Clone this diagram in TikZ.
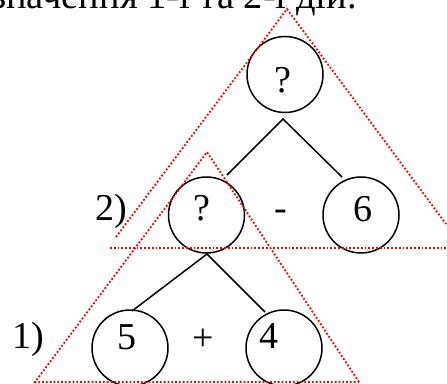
\documentclass[tikz,border=0pt]{standalone}
\usepackage{fontspec}
\setmainfont{Liberation Serif}
\begin{document}
\begin{tikzpicture}[x=1pt,y=-1pt,
  big/.style={font=\fontsize{38}{40}\selectfont, inner sep=0pt, anchor=base},
  vert/.style={circle, draw=black, line width=1.5pt, minimum size=76pt, inner sep=0pt},
  edge/.style={draw=black, line width=1.5pt},
  tri/.style={draw=red, line width=1.8pt, dash pattern=on 1.8pt off 2pt}]
\useasboundingbox (0,0) rectangle (447,383);
\clip (0,0) rectangle (447,383);
% caption line (cut off at the top)
\node[font=\fontsize{38.5}{42}\selectfont, inner sep=0pt, anchor=base east] (cap) at (357,8.5) {значення 1-ї та 2-ї дій.};
% circles
\node[vert] (c0) at (285,74.5) {};
\node[vert] (c1) at (206.5,215) {};
\node[vert] (c2) at (361,215) {};
\node[vert] (c3) at (130,348) {};
\node[vert] (c4) at (284,348) {};
% texts
\node[big] (t0) at (283,92) {?};
\node[big] (t1) at (202,220) {?};
\node[big] (t2) at (363,221) {6};
\node[big] (t3) at (127,349) {5};
\node[big] (t4) at (269,348) {4};
\node[big] (op1) at (281,220) {-};
\node[big] (op2) at (203,350) {+};
\node[big] (l2) at (111,220) {2)};
\node[big] (l1) at (28,348) {1)};
% connectors
\coordinate (j0) at (283,119);
\coordinate (e1) at (227,175);
\coordinate (e2) at (342,177);
\coordinate (j1) at (207,254);
\coordinate (e3) at (132,311);
\coordinate (e4) at (265,312);
\draw[edge] (e1) -- (j0) -- (e2);
\draw[edge] (e3) -- (j1) -- (e4);
% red dotted triangles
\coordinate (A) at (287,9);
\coordinate (AL) at (116,237);
\coordinate (AR) at (446,224);
\coordinate (BL) at (110,248);
\coordinate (BR) at (447,248);
\draw[tri] (AL) -- (A) -- (AR);
\draw[tri] (BL) -- (BR);
\coordinate (S) at (207,152);
\coordinate (SL) at (35,382);
\coordinate (SR) at (359,382);
\draw[tri] (SR) -- (S) -- (SL) -- cycle;
\end{tikzpicture}
\end{document}
